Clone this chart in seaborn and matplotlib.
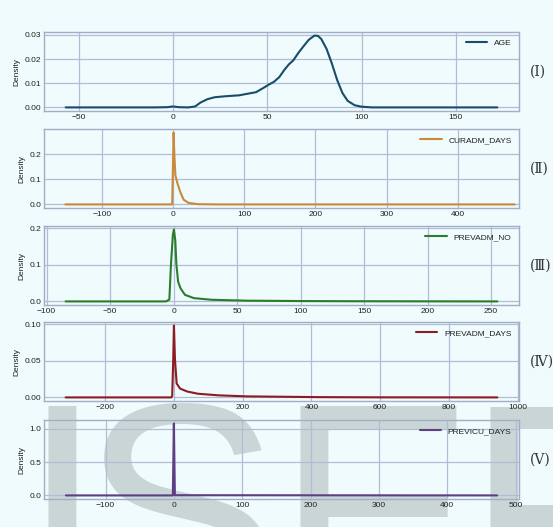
import seaborn as sns
import matplotlib
matplotlib.use('Agg')
import matplotlib.pyplot as plt

# density curves (x value, density)
age_x = [-57, -10, -3, 0, 3, 8, 11.7, 14.5, 18.2, 22, 27.5, 35, 40.5, 44, 48, 50.7, 53.5,
         56.3, 59, 61.3, 63.8, 66.5, 69.5, 72, 75, 76.8, 78.6, 81.4, 84.2, 87, 89.8,
         92.6, 96.3, 100, 105.6, 172]
age_y = [0, 0, 0.0001, 0.0004, 0.0001, 0, 0.0004, 0.002, 0.0034, 0.0042, 0.0046, 0.005,
         0.0058, 0.0063, 0.0081, 0.0094, 0.0106, 0.0125, 0.0155, 0.0177, 0.0195, 0.0226,
         0.0256, 0.028, 0.0297, 0.0296, 0.0283, 0.0242, 0.0182, 0.0114, 0.006, 0.0027,
         0.0009, 0.0003, 0, 0]

curadm_x = [-151, -5, -1, 1, 2, 3.5, 6.4, 10, 15, 22, 35, 60, 480]
curadm_y = [0, 0, 0, 0.286, 0.2, 0.116, 0.084, 0.052, 0.019, 0.006, 0.001, 0, 0]

prevadm_no_x = [-85, -6, -3.3, -2, -0.5, 0.3, 1.4, 2.2, 3.6, 5.5, 9, 16, 30, 58, 100, 141, 200, 255]
prevadm_no_y = [0, 0, 0.005, 0.103, 0.184, 0.197, 0.166, 0.103, 0.054, 0.036, 0.018, 0.009,
                0.0045, 0.002, 0.001, 0.0005, 0.0002, 0]

prevadm_days_x = [-315, -8, -5, -2, 0, 3, 8, 18, 39, 70, 131, 213, 418, 600, 941]
prevadm_days_y = [0, 0, 0.002, 0.052, 0.098, 0.052, 0.019, 0.012, 0.008, 0.005, 0.0028,
                  0.0014, 0.0004, 0.0001, 0]

previcu_x = [-158, -1.5, 0, 1.5, 473]
previcu_y = [0, 0, 1.08, 0.003, 0]

names = ['AGE', 'CURADM_DAYS', 'PREVADM_NO', 'PREVADM_DAYS', 'PREVICU_DAYS']
panel_tags = ['(Ⅰ)', '(Ⅱ)', '(Ⅲ)', '(Ⅳ)', '(Ⅴ)']
colors = ['#174d6b', '#c98a3c', '#2b7d2b', '#8c1c22', '#5e3f82']

xticks = [[-50, 0, 50, 100, 150],
          [-100, 0, 100, 200, 300, 400],
          [-100, -50, 0, 50, 100, 150, 200, 250],
          [-200, 0, 200, 400, 600, 800, 1000],
          [-100, 0, 100, 200, 300, 400, 500]]
yticks = [[0, 0.01, 0.02, 0.03],
          [0, 0.1, 0.2],
          [0, 0.1, 0.2],
          [0, 0.05, 0.10],
          [0, 0.5, 1.0]]
xlims = [(-68.5, 183.5), (-181, 486), (-102, 272), (-378, 1004), (-190, 505)]

curves = [(age_x, age_y), (curadm_x, curadm_y), (prevadm_no_x, prevadm_no_y),
          (prevadm_days_x, prevadm_days_y), (previcu_x, previcu_y)]

sns.set_style('whitegrid')
plt.rcParams['font.family'] = ['Liberation Sans', 'DejaVu Sans']

bg = '#effbfc'
grid_c = '#b3bcd6'
W, H = 553, 527
fig = plt.figure(figsize=(W / 100, H / 100), dpi=100, facecolor=bg)

# watermark behind the panels
wm = [('I', 20), ('S', 80), ('E', 276), ('R', 466)]
for ch, px in wm:
    fig.text(px / W, (H - 612) / H, ch, fontsize=215, color='#cad6d6',
             family='Liberation Sans', ha='left', va='baseline', zorder=-1)

tops = [32, 129, 226, 322, 420]
left, right, ah = 44, 519, 79

for i in range(5):
    ax = fig.add_axes([left / W, 1 - (tops[i] + ah) / H, (right - left) / W, ah / H])
    ax.set_facecolor('none')
    x, y = curves[i]
    sns.lineplot(x=x, y=y, ax=ax, color=colors[i], linewidth=1.5, label=names[i])
    ax.set_xlim(*xlims[i])
    ax.set_xticks(xticks[i])
    ax.set_yticks(yticks[i])
    ax.margins(y=0.05)
    ax.set_ylabel('Density', fontsize=6, color='#222222', labelpad=3)
    ax.tick_params(labelsize=6, colors='#222222', pad=2, length=0)
    ax.grid(True, color=grid_c, linewidth=0.9)
    for s in ax.spines.values():
        s.set_color('#a3adc8')
        s.set_linewidth(1.0)
    leg = ax.legend(loc='upper right', frameon=False, fontsize=6, handlelength=2.6,
                    borderaxespad=0.5)
    for t in leg.get_texts():
        t.set_color('#222222')
    fig.text(530 / W, 1 - (tops[i] + 40) / H, panel_tags[i], fontsize=10,
             family=['DejaVu Serif', 'Noto Sans CJK SC'], color='#333333',
             ha='left', va='center')

fig.savefig('out.png', dpi=100, facecolor=bg)
